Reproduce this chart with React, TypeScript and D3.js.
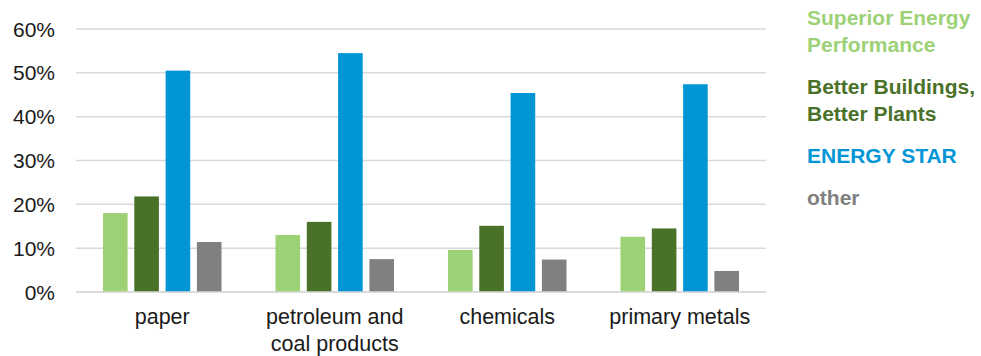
import React from "react";
import * as d3 from "d3";

const categories: string[][] = [
  ["paper"],
  ["petroleum and", "coal products"],
  ["chemicals"],
  ["primary metals"],
];
const seriesNames = ["Superior Energy Performance", "Better Buildings, Better Plants", "ENERGY STAR", "other"];
const legendLines: string[][] = [
  ["Superior Energy", "Performance"],
  ["Better Buildings,", "Better Plants"],
  ["ENERGY STAR"],
  ["other"],
];
const sepValues = [0.18, 0.13, 0.096, 0.126];
const bbValues = [0.218, 0.16, 0.151, 0.145];
const esValues = [0.505, 0.545, 0.454, 0.474];
const otherValues = [0.114, 0.075, 0.074, 0.048];
const yTicks = [0, 0.1, 0.2, 0.3, 0.4, 0.5, 0.6];
const colors = ["#9DD176", "#4A7128", "#0096D6", "#808080"];

const W = 981;
const H = 356;
const left = 76;
const right = 766;
const top = 29;
const bottom = 292;
const font = "'Liberation Sans', Arial, sans-serif";

export default function App() {
  const seriesValues = [sepValues, bbValues, esValues, otherValues];
  const catKeys = categories.map((c) => c.join(" "));
  const x0 = d3.scaleBand<string>().domain(catKeys).range([left, right]).paddingInner(0).paddingOuter(0);
  const x1 = d3
    .scaleBand<string>()
    .domain(seriesNames)
    .range([0, x0.bandwidth()])
    .paddingInner(0.214)
    .paddingOuter(0.862);
  const y = d3.scaleLinear().domain([0, 0.6]).range([bottom, top]);
  const fmt = d3.format(".0%");
  const legendY = [25, 94, 163, 205];
  return (
    <div style={{ position: "absolute", left: 0, top: 0 }}>
      <svg width={W} height={H} style={{ display: "block", background: "#fff" }}>
        {yTicks.map((t) => (
          <g key={t}>
            <line x1={left} x2={right} y1={y(t)} y2={y(t)} stroke="#D9D9D9" strokeWidth={1.5} />
            <text x={55} y={y(t)} dy="0.36em" textAnchor="end" fontFamily={font} fontSize={21} fill="#1a1a1a">
              {fmt(t)}
            </text>
          </g>
        ))}
        {catKeys.map((c, ci) => (
          <g key={c} transform={`translate(${x0(c)},0)`}>
            {seriesNames.map((s, si) => {
              const v = seriesValues[si][ci];
              return (
                <rect
                  key={s}
                  x={x1(s)}
                  y={y(v)}
                  width={x1.bandwidth()}
                  height={y(0) - y(v)}
                  fill={colors[si]}
                />
              );
            })}
            {categories[ci].map((line, li) => (
              <text
                key={li}
                x={x0.bandwidth() / 2}
                y={324 + li * 26.5}
                textAnchor="middle"
                fontFamily={font}
                fontSize={21.5}
                fill="#1a1a1a"
              >
                {line}
              </text>
            ))}
          </g>
        ))}
        <line x1={left} x2={right} y1={y(0)} y2={y(0)} stroke="#D9D9D9" strokeWidth={1.5} />
        {legendLines.map((lines, i) => (
          <g key={i}>
            {lines.map((l, li) => (
              <text
                key={li}
                x={807}
                y={legendY[i] + li * 26.5}
                fontFamily={font}
                fontSize={21}
                fontWeight="bold"
                fill={colors[i]}
              >
                {l}
              </text>
            ))}
          </g>
        ))}
      </svg>
    </div>
  );
}
